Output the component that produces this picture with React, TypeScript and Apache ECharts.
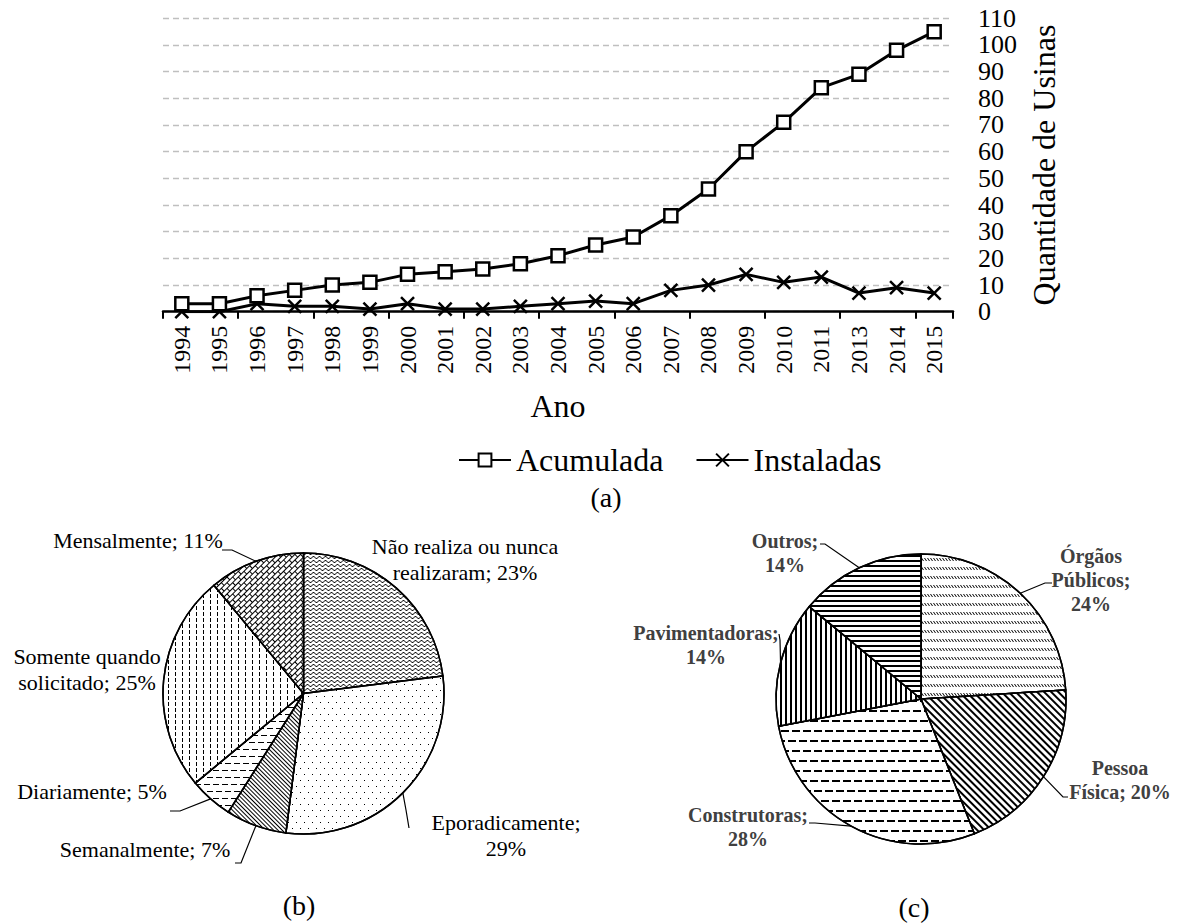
import React, { useEffect, useRef } from 'react';
import * as echarts from 'echarts';

// ---------- DATA ----------
const years = ['1994', '1995', '1996', '1997', '1998', '1999', '2000', '2001', '2002', '2003', '2004', '2005', '2006', '2007', '2008', '2009', '2010', '2011', '2013', '2014', '2015'];
const acumulada = [3, 3, 6, 8, 10, 11, 14, 15, 16, 18, 21, 25, 28, 36, 46, 60, 71, 84, 89, 98, 105];
const instaladas = [0, 0, 3, 2, 2, 1, 3, 1, 1, 2, 3, 4, 3, 8, 10, 14, 11, 13, 7, 9, 7];
const yMin = 0;
const yMax = 110;
const yStep = 10;

const frequencyNames = ['Não realiza ou nunca realizaram', 'Eporadicamente', 'Semanalmente', 'Diariamente', 'Somente quando solicitado', 'Mensalmente'];
const frequencyShares = [23, 29, 7, 5, 25, 11];

const clientNames = ['Órgãos Públicos', 'Pessoa Física', 'Construtoras', 'Pavimentadoras', 'Outros'];
const clientShares = [24, 20, 28, 14, 14];

// ---------- STYLE / LAYOUT ----------
const SERIF = "'Liberation Serif', 'Times New Roman', serif";

const PIE_B = { cx: 303.5, cy: 693.5, r: 140.5 };
const PIE_C = { cx: 921, cy: 699, r: 145 };

type LabelLayout = { x: number; y: number; breaks: string[]; line: number[][] | null };

const LAYOUT_B: LabelLayout[] = [
  { x: 465, y: 559, breaks: ['nunca '], line: null },
  { x: 506, y: 835, breaks: ['; '], line: [[406, 810], [409, 828]] },
  { x: 145, y: 849, breaks: [], line: [[241, 863], [235, 863]] },
  { x: 92, y: 791, breaks: [], line: [[180, 811], [170, 811]] },
  { x: 87, y: 669, breaks: ['quando '], line: null },
  { x: 138, y: 540, breaks: [], line: [[232, 550], [222, 550]] },
];

const LAYOUT_C: LabelLayout[] = [
  { x: 1091, y: 580, breaks: ['Órgãos ', '; '], line: [[1045, 583], [1052, 583]] },
  { x: 1120, y: 780, breaks: ['Pessoa '], line: [[1063, 797], [1068, 797]] },
  { x: 748, y: 827, breaks: ['; '], line: [[815, 823], [809, 823]] },
  { x: 706, y: 645, breaks: ['; '], line: [[780, 640], [779, 634]] },
  { x: 785, y: 553, breaks: ['; '], line: [[825, 544], [820, 544]] },
];

const dec = (o: any) => ({ color: '#000', backgroundColor: '#fff', symbolSize: 1, symbolKeepAspect: false, ...o });

const DECALS_B = [
  dec({ symbol: 'path://M0,2 Q1.5,0 3,2 Q4.5,4 6,2 L6,3 Q4.5,5 3,3 Q1.5,1 0,3 Z', dashArrayX: [6, 0], dashArrayY: [3, 1] }),
  dec({ symbol: 'rect', dashArrayX: [[1, 7], [0, 4, 1, 3]], dashArrayY: [1, 5] }),
  dec({ symbol: 'rect', dashArrayX: [8, 0], dashArrayY: [1, 2], rotation: Math.PI / 4 }),
  dec({ symbol: 'rect', dashArrayX: [[6, 3], [3, 3, 3, 0]], dashArrayY: [1, 6] }),
  dec({ symbol: 'rect', dashArrayX: [1, 6], dashArrayY: [4, 2] }),
  dec({ symbol: 'path://M0,0H8V1H0Z M0,0H1V4H0Z M0,4H8V5H0Z M4,4H5V8H4Z', dashArrayX: [8, 0], dashArrayY: [8, 0], rotation: -Math.PI / 4 }),
];

const DECALS_C = [
  dec({ symbol: 'path://M0,0H1L3,3H2Z', dashArrayX: [3, 0], dashArrayY: [3, 6] }),
  dec({ symbol: 'rect', dashArrayX: [8, 0], dashArrayY: [1.5, 2.5], rotation: Math.PI / 4 }),
  dec({ symbol: 'rect', dashArrayX: [[8, 3], [4, 3, 4, 0]], dashArrayY: [1.5, 7.5] }),
  dec({ symbol: 'rect', dashArrayX: [2, 2.5], dashArrayY: [10, 0] }),
  dec({ symbol: 'rect', dashArrayX: [10, 0], dashArrayY: [2, 2.5] }),
];

function makeLabelLayout(layout: LabelLayout[], values: number[], geo: { cx: number; cy: number; r: number }) {
  return (params: any) => {
    const i = params.dataIndex;
    const L = layout[i];
    const total = values.reduce((a, b) => a + b, 0);
    let cum = 0;
    for (let k = 0; k < i; k++) cum += values[k];
    const a = ((cum + values[i] / 2) / total) * 2 * Math.PI;
    const edge = [geo.cx + geo.r * Math.sin(a), geo.cy - geo.r * Math.cos(a)];
    const res: any = { x: L.x, y: L.y, align: 'center', verticalAlign: 'middle' };
    if (L.line) res.labelLinePoints = [edge, ...L.line];
    return res;
  };
}

function labelText(name: string, value: number, breaks: string[]) {
  let s = `${name}; ${value}%`;
  breaks.forEach((b) => {
    s = s.replace(b, b.replace(/ $/, '') + '\n');
  });
  return s;
}

export default function App() {
  const ref = useRef<HTMLDivElement>(null);

  useEffect(() => {
    document.body.style.margin = '0';
    if (!ref.current) return;
    const chart = echarts.init(ref.current, null, { renderer: 'svg' });

    const option: any = {
      animation: false,
      backgroundColor: '#fff',
      textStyle: { fontFamily: SERIF, color: '#000' },
      grid: { left: 163, right: 231, top: 18.3, bottom: 611.3, containLabel: false },
      legend: {
        data: ['Acumulada', 'Instaladas'],
        left: 453,
        top: 439,
        itemWidth: 52,
        itemHeight: 16,
        itemGap: 32,
        textStyle: { fontSize: 32, fontFamily: SERIF, color: '#000' },
        selectedMode: false,
      },
      xAxis: {
        type: 'category',
        data: years,
        boundaryGap: true,
        name: 'Ano',
        nameLocation: 'middle',
        nameGap: 78,
        nameTextStyle: { fontSize: 32, fontFamily: SERIF, color: '#000' },
        axisLine: { show: true, lineStyle: { color: '#000', width: 2.5 } },
        axisTick: { show: true, interval: 1, length: 7, lineStyle: { color: '#000', width: 2 } },
        axisLabel: { interval: 0, rotate: 90, fontSize: 24, margin: 14, color: '#000', fontFamily: SERIF },
        splitLine: { show: false },
      },
      yAxis: {
        type: 'value',
        position: 'right',
        min: yMin,
        max: yMax,
        interval: yStep,
        name: 'Quantidade de Usinas',
        nameLocation: 'middle',
        nameGap: 74,
        nameTextStyle: { fontSize: 32, fontFamily: SERIF, color: '#000' },
        axisLine: { show: false },
        axisTick: { show: false },
        axisLabel: { fontSize: 26, margin: 25, color: '#000', fontFamily: SERIF },
        splitLine: { show: true, lineStyle: { type: [6, 4], color: '#bfbfbf', width: 1.3 } },
      },
      series: [
        {
          name: 'Instaladas',
          type: 'line',
          data: instaladas,
          symbol: 'path://M0,0L10,10M10,0L0,10',
          symbolSize: 13,
          showAllSymbol: true,
          lineStyle: { color: '#000', width: 3 },
          itemStyle: { color: '#000', borderColor: '#000', borderWidth: 2.5 },
          emphasis: { disabled: true },
          silent: true,
          z: 3,
        },
        {
          name: 'Acumulada',
          type: 'line',
          data: acumulada,
          symbol: 'rect',
          symbolSize: 13,
          showAllSymbol: true,
          lineStyle: { color: '#000', width: 3 },
          itemStyle: { color: '#fff', borderColor: '#000', borderWidth: 2.5 },
          emphasis: { disabled: true },
          silent: true,
          z: 4,
        },
        {
          name: 'Frequência',
          type: 'pie',
          center: [PIE_B.cx, PIE_B.cy],
          radius: PIE_B.r,
          startAngle: 90,
          clockwise: true,
          silent: true,
          emphasis: { disabled: true },
          avoidLabelOverlap: false,
          data: frequencyNames.map((n, i) => ({
            name: n,
            value: frequencyShares[i],
            itemStyle: { color: '#fff', borderColor: '#000', borderWidth: 1.5, decal: DECALS_B[i] },
            labelLine: { show: !!LAYOUT_B[i].line },
          })),
          label: {
            show: true,
            position: 'outside',
            fontSize: 22,
            lineHeight: 26,
            fontFamily: SERIF,
            color: '#000',
            formatter: (p: any) => labelText(p.name, p.value, LAYOUT_B[p.dataIndex].breaks),
          },
          labelLine: { show: true, lineStyle: { color: '#000', width: 1.2 } },
          labelLayout: makeLabelLayout(LAYOUT_B, frequencyShares, PIE_B),
        },
        {
          name: 'Clientes',
          type: 'pie',
          center: [PIE_C.cx, PIE_C.cy],
          radius: PIE_C.r,
          startAngle: 90,
          clockwise: true,
          silent: true,
          emphasis: { disabled: true },
          avoidLabelOverlap: false,
          data: clientNames.map((n, i) => ({
            name: n,
            value: clientShares[i],
            itemStyle: { color: '#fff', borderColor: '#000', borderWidth: 1.5, decal: DECALS_C[i] },
          })),
          label: {
            show: true,
            position: 'outside',
            fontSize: 20,
            lineHeight: 24,
            fontWeight: 'bold',
            fontFamily: SERIF,
            color: '#404040',
            formatter: (p: any) => labelText(p.name, p.value, LAYOUT_C[p.dataIndex].breaks),
          },
          labelLine: { show: true, lineStyle: { color: '#000', width: 1.2 } },
          labelLayout: makeLabelLayout(LAYOUT_C, clientShares, PIE_C),
        },
      ],
      graphic: [
        { type: 'text', x: 606, y: 497, style: { text: '(a)', fontSize: 28, fontFamily: SERIF, fill: '#000', align: 'center', verticalAlign: 'middle' } },
        { type: 'text', x: 299, y: 905, style: { text: '(b)', fontSize: 28, fontFamily: SERIF, fill: '#000', align: 'center', verticalAlign: 'middle' } },
        { type: 'text', x: 914, y: 907, style: { text: '(c)', fontSize: 28, fontFamily: SERIF, fill: '#000', align: 'center', verticalAlign: 'middle' } },
      ],
    };

    chart.setOption(option);
    return () => chart.dispose();
  }, []);

  return <div ref={ref} style={{ width: 1184, height: 923 }} />;
}
